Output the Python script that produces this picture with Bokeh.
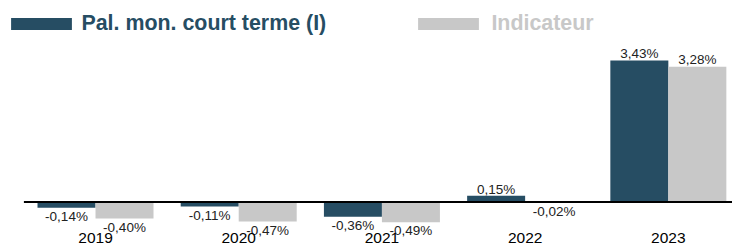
from bokeh.plotting import figure
from bokeh.models import ColumnDataSource, Legend, LegendItem, Range1d
from bokeh.core.properties import value
from bokeh.embed import file_html
from bokeh.resources import INLINE

years = ["2019", "2020", "2021", "2022", "2023"]
series_names = ["Pal. mon. court terme (I)", "Indicateur"]
pal_values = [-0.14, -0.11, -0.36, 0.15, 3.43]
ind_values = [-0.40, -0.47, -0.49, -0.02, 3.28]

DARK = "#264d63"
GREY = "#c8c8c8"
FONT = "Liberation Sans"

xs = list(range(len(years)))
dodge = 0.2025
bw = 0.405


def fmt(v):
    return ("%.2f" % v).replace(".", ",") + "%"


def label_offsets(vals):
    return [-6.8 if v >= 0 else 8.7 for v in vals]


src_pal = ColumnDataSource(dict(
    x=[i - dodge for i in xs], top=pal_values,
    label=[fmt(v) for v in pal_values], yoff=label_offsets(pal_values)))
src_ind = ColumnDataSource(dict(
    x=[i + dodge for i in xs], top=ind_values,
    label=[fmt(v) for v in ind_values], yoff=label_offsets(ind_values)))
src_years = ColumnDataSource(dict(x=xs, y=[0] * len(xs), label=years))

p = figure(width=732, height=245, output_backend="svg", toolbar_location=None,
           x_axis_type=None, y_axis_type=None, min_border=0,
           x_range=Range1d(-0.6634, 4.448), y_range=Range1d(-1.0545, 4.885))
p.outline_line_color = None
p.xgrid.visible = False
p.ygrid.visible = False
p.background_fill_color = "white"

r_pal = p.vbar(x="x", top="top", bottom=0, width=bw, source=src_pal,
               fill_color=DARK, line_color=None)
r_ind = p.vbar(x="x", top="top", bottom=0, width=bw, source=src_ind,
               fill_color=GREY, line_color=None)

# zero line
p.segment(x0=[-0.5], y0=[0], x1=[len(years) - 0.5], y1=[0],
          line_color="black", line_width=2)

for src in (src_pal, src_ind):
    p.text(x="x", y="top", text="label", source=src, y_offset="yoff",
           text_align="center", text_baseline="middle",
           text_font=value(FONT), text_font_size="13.5px", text_color="#222222")

p.text(x="x", y="y", text="label", source=src_years, y_offset=36,
       text_align="center", text_baseline="middle",
       text_font=value(FONT), text_font_size="15.5px", text_color="black")

common = dict(orientation="horizontal", padding=0, margin=0, spacing=0,
              glyph_width=76, glyph_height=15, border_line_color=None,
              background_fill_alpha=0, label_text_font=FONT,
              label_text_font_size="21.4px", label_text_font_style="bold")

leg1 = Legend(items=[LegendItem(label=series_names[0], renderers=[r_pal])],
              location=(3.4, 209), label_standoff=2,
              label_text_color=DARK, **common)
leg2 = Legend(items=[LegendItem(label=series_names[1], renderers=[r_ind])],
              location=(410.4, 209), label_standoff=5,
              label_text_color=GREY, **common)
p.add_layout(leg1, "center")
p.add_layout(leg2, "center")

open("out.html", "w").write(file_html(p, INLINE))
